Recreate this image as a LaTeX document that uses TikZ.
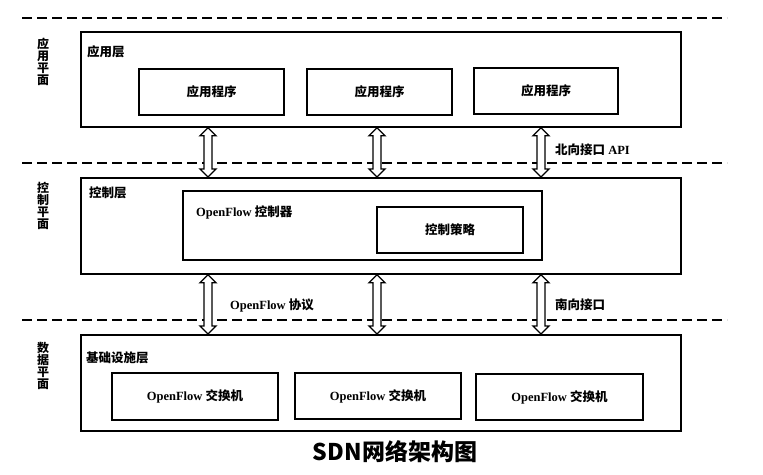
\documentclass[tikz,border=0pt]{standalone}
\usepackage{fontspec}
\setmainfont{Liberation Serif}
\newfontfamily\cjk{Noto Sans CJK SC}
\usetikzlibrary{calc}
\newcommand\dblarr[2]{\draw[arrowbody] (#1) -- ++(8,8) -- ++(-4,0) -- ($(#2)+(4,-8)$) -- ++(4,0) -- (#2) -- ++(-8,-8) -- ++(4,0) -- ($(#1)+(-4,8)$) -- ++(-4,0) -- cycle;}
\begin{document}
\begin{tikzpicture}[x=1pt,y=-1pt,
  layer/.style={draw, line width=1.8pt, anchor=north west, minimum width=600pt, minimum height=96pt, inner sep=0pt},
  box/.style={draw, line width=1.8pt, inner sep=0pt, font=\fontsize{12.5}{14}\selectfont\bfseries},
  lbl/.style={inner sep=0pt, font=\fontsize{12.5}{14}\selectfont\bfseries},
  side/.style={inner sep=0pt, align=center, font=\fontsize{12}{12}\selectfont\bfseries},
  sep/.style={dashed, dash pattern=on 10pt off 5pt, line width=1.8pt},
  arrowbody/.style={draw, fill=white, line width=1.3pt, line join=miter}]
\useasboundingbox (0,0) rectangle (763,474);
% dashed separators
\draw[sep] (22,18) -- (727,18);
\draw[sep] (22,163) -- (727,163);
\draw[sep] (22,320) -- (727,320);
% side labels
\node[side] (sp1) at (43,62) {\cjk 应\\\cjk 用\\\cjk 平\\\cjk 面};
\node[side] (sp2) at (43,206) {\cjk 控\\\cjk 制\\\cjk 平\\\cjk 面};
\node[side] (sp3) at (43,366) {\cjk 数\\\cjk 据\\\cjk 平\\\cjk 面};
% layers
\node[layer, minimum height=95pt] (appl) at (80,31) {};
\node[layer] (ctrl) at (80,177) {};
\node[layer] (data) at (80,334) {};
% layer titles
\node[lbl, anchor=west] (t1) at (87,52) {\cjk 应用层};
\node[lbl, anchor=west] (t2) at (89,193) {\cjk 控制层};
\node[lbl, anchor=west] (t3) at (86,358) {\cjk 基础设施层};
% application boxes
\node[box, minimum width=145pt, minimum height=46pt] (a1) at (211.5,92) {\cjk 应用程序};
\node[box, minimum width=145pt, minimum height=46pt] (a2) at (379.5,92) {\cjk 应用程序};
\node[box, minimum width=144pt, minimum height=46pt] (a3) at (546,91) {\cjk 应用程序};
% controller
\node[draw, line width=1.4pt, minimum width=359pt, minimum height=69pt, inner sep=0pt] (ofc) at (362.5,225.5) {};
\node[lbl, anchor=west] (ofct) at (196,212) {OpenFlow {\cjk 控制器}};
\node[box, minimum width=146pt, minimum height=46pt] (pol) at (450,230) {\cjk 控制策略};
% switches
\node[box, minimum width=166pt, minimum height=47pt] (s1) at (195,396.5) {OpenFlow {\cjk 交换机}};
\node[box, minimum width=166pt, minimum height=46pt] (s2) at (378,396) {OpenFlow {\cjk 交换机}};
\node[box, minimum width=167pt, minimum height=46pt] (s3) at (559.5,397) {OpenFlow {\cjk 交换机}};
% arrow columns
\coordinate (c1) at (208,0);
\coordinate (c2) at (377,0);
\coordinate (c3) at (541,0);
\coordinate (u1t) at (appl.south -| c1); \coordinate (u1b) at (ctrl.north -| c1);
\coordinate (u2t) at (appl.south -| c2); \coordinate (u2b) at (ctrl.north -| c2);
\coordinate (u3t) at (appl.south -| c3); \coordinate (u3b) at (ctrl.north -| c3);
\coordinate (l1t) at (ctrl.south -| c1); \coordinate (l1b) at (data.north -| c1);
\coordinate (l2t) at (ctrl.south -| c2); \coordinate (l2b) at (data.north -| c2);
\coordinate (l3t) at (ctrl.south -| c3); \coordinate (l3b) at (data.north -| c3);
\dblarr{u1t}{u1b}
\dblarr{u2t}{u2b}
\dblarr{u3t}{u3b}
\dblarr{l1t}{l1b}
\dblarr{l2t}{l2b}
\dblarr{l3t}{l3b}
% interface labels
\node[lbl, anchor=west] (nb) at (555,150) {{\cjk 北向接口} API};
\node[lbl, anchor=west] (ofp) at (230,305) {OpenFlow {\cjk 协议}};
\node[lbl, anchor=west] (sb) at (555,305) {\cjk 南向接口};
% caption
\node[inner sep=0pt, font=\fontsize{23}{26}\selectfont\cjk\bfseries] (cap) at (395,452) {SDN网络架构图};
\end{tikzpicture}
\end{document}
